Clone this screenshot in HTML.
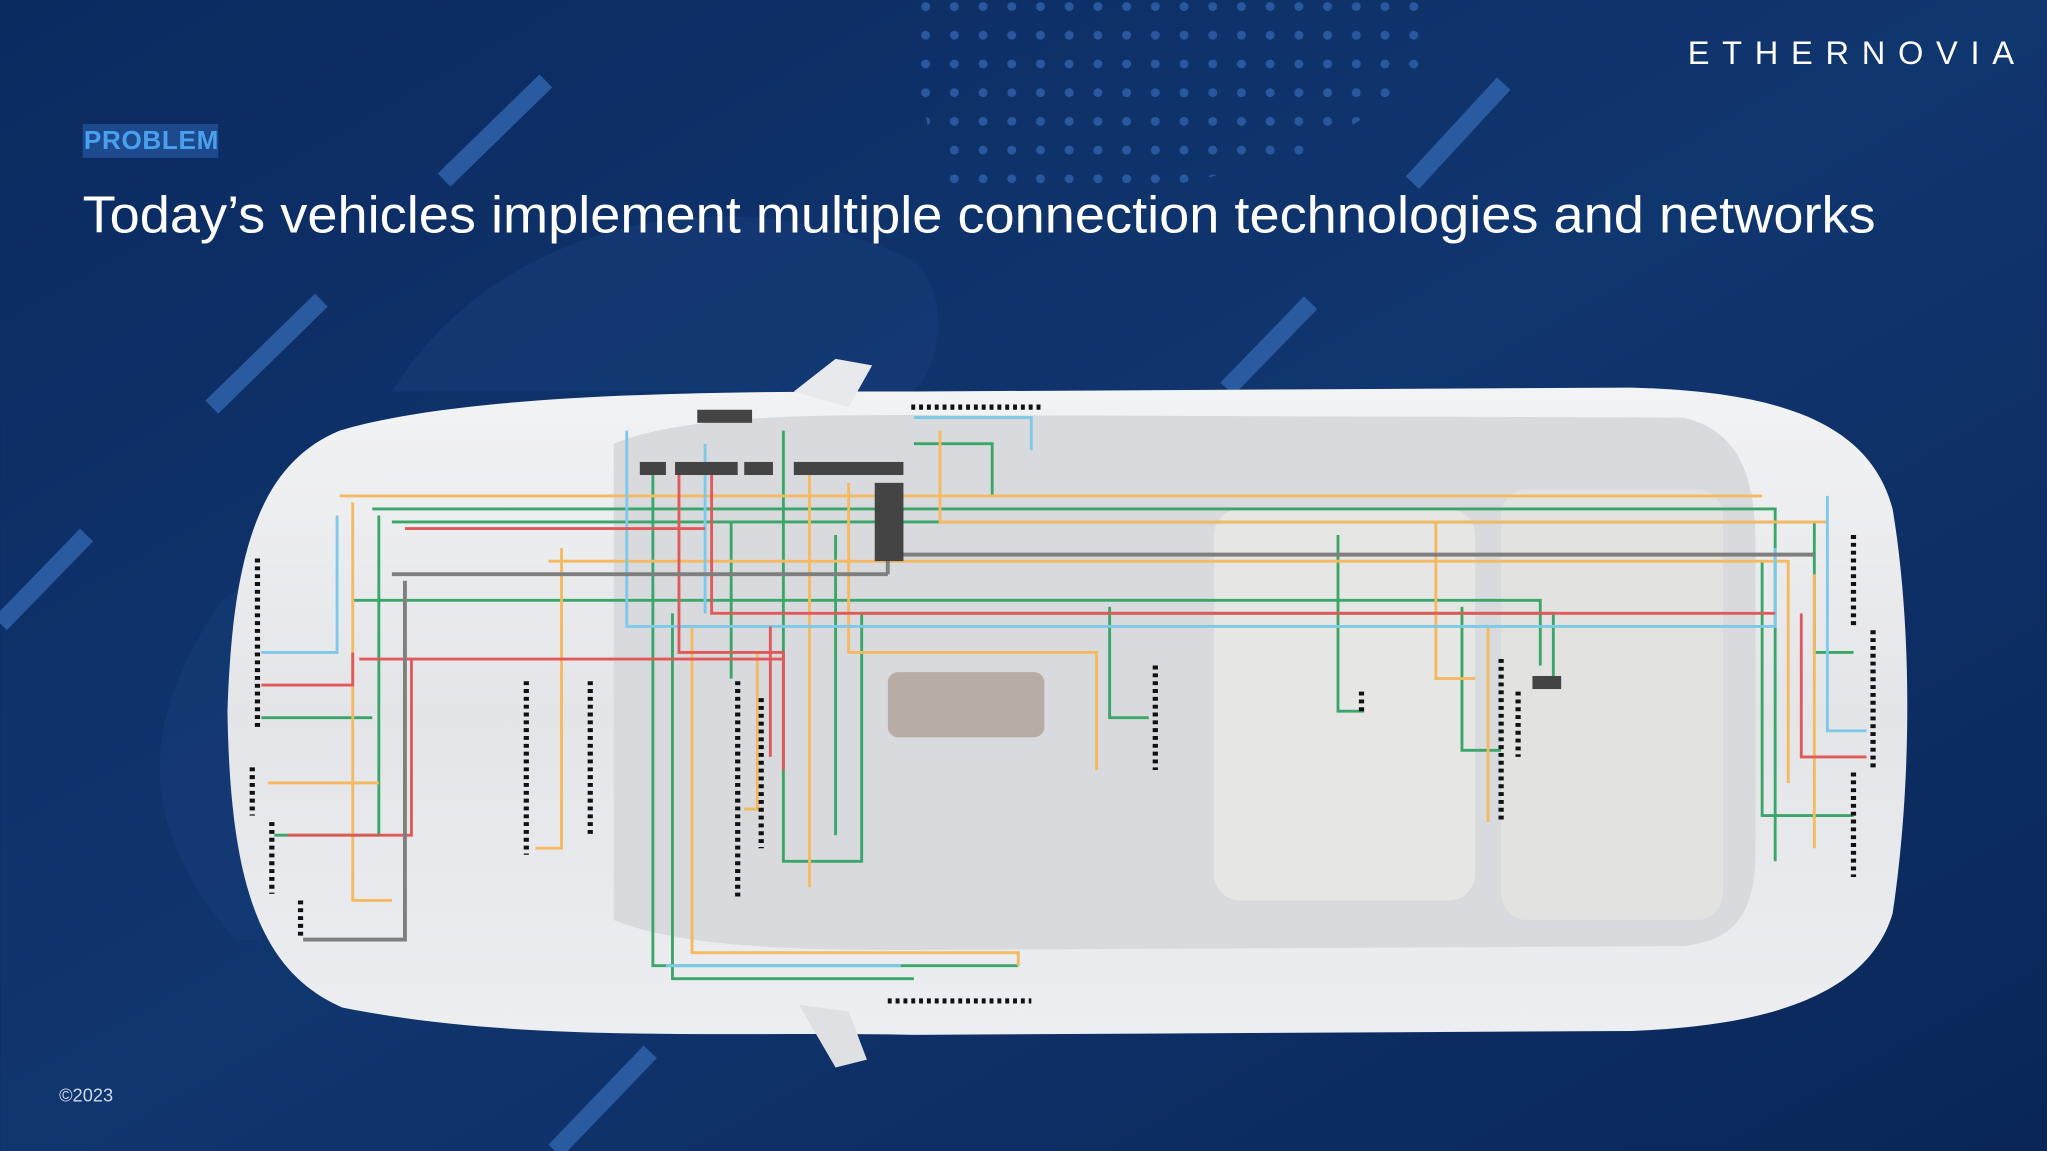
<!DOCTYPE html>
<html><head><meta charset="utf-8"><style>
html,body{margin:0;padding:0;width:2047px;height:1151px;overflow:hidden;background:#0c2a5e}
svg{display:block}
</style></head><body>
<svg width="2047" height="1151" viewBox="0 0 1568 882" xmlns="http://www.w3.org/2000/svg">
<defs>
<linearGradient id="bg" x1="0" y1="0" x2="1" y2="1">
<stop offset="0" stop-color="#0b2a60"/><stop offset="0.5" stop-color="#10366f"/><stop offset="1" stop-color="#0a2658"/>
</linearGradient>
<linearGradient id="car" x1="0" y1="0" x2="0" y2="1">
<stop offset="0" stop-color="#f2f3f5"/><stop offset="0.5" stop-color="#e4e5e8"/><stop offset="1" stop-color="#eceef1"/>
</linearGradient>
<pattern id="dots" width="22" height="22" patternUnits="userSpaceOnUse"><circle cx="5" cy="5" r="3.4" fill="#2f5fa8"/></pattern>
</defs>
<rect width="1568" height="882" fill="url(#bg)"/>
<path d="M690,0 L1100,0 L1090,60 L1000,120 L860,150 L720,140 Z" fill="url(#dots)" opacity="0.85"/>
<g stroke="#2a5aa0" stroke-width="14">
<line x1="340" y1="138" x2="418" y2="62"/>
<line x1="162" y1="312" x2="246" y2="230"/>
<line x1="0" y1="478" x2="66" y2="410"/>
<line x1="1082" y1="140" x2="1152" y2="64"/>
<line x1="940" y1="298" x2="1004" y2="232"/>
<line x1="425" y1="882" x2="498" y2="806"/>
</g>
<path d="M300,300 C380,170 560,130 700,200 C730,230 720,280 700,300" fill="#163c78" opacity="0.6"/>
<path d="M180,720 C110,640 100,560 170,460 L200,440 L200,720 Z" fill="#163c78" opacity="0.6"/>
<path d="M260,330 C200,355 178,420 174,545 C176,680 200,745 262,772 C400,800 560,790 700,793 L1250,790 C1360,786 1432,760 1450,700 C1465,600 1465,480 1450,390 C1432,322 1360,300 1250,297 L700,300 C560,300 360,300 260,330 Z" fill="url(#car)"/>
<path d="M470,340 C520,320 600,318 700,318 L1290,320 C1330,330 1345,360 1345,420 L1345,650 C1345,700 1330,720 1290,725 L700,728 C600,728 520,725 470,705 Z" fill="#d9dadd"/>
<rect x="930" y="390" width="200" height="300" rx="20" fill="#e6e6e4"/>
<rect x="1150" y="375" width="170" height="330" rx="20" fill="#e2e2e0"/>
<rect x="680" y="515" width="120" height="50" rx="8" fill="#b8ada4"/>
<path d="M608,300 L640,275 L668,280 L650,312 Z" fill="#e8e9ec"/>
<path d="M612,770 L640,818 L664,812 L650,775 Z" fill="#dfe0e3"/>
<g fill="none" stroke-width="2.2">
<g stroke="#3aa66a">
<path d="M285,390 H1360 V660"/><path d="M300,400 H1390 V500 H1420"/><path d="M290,395 V640 H210"/>
<path d="M500,360 V740 H780"/><path d="M515,470 V750 H700"/><path d="M600,330 V660 H660 V470 H1190 V520"/>
<path d="M700,340 H760 V380"/><path d="M1025,410 V545 H1045"/><path d="M850,465 V550 H880"/>
<path d="M270,460 H1180 V510"/><path d="M1120,465 V575 H1150"/><path d="M560,400 V520"/>
<path d="M1350,430 V625 H1420"/><path d="M200,550 H285"/><path d="M640,410 V640"/>
</g>
<g stroke="#f5b961">
<path d="M260,380 H1350"/><path d="M270,385 V690 H300"/><path d="M430,420 V650 H410"/><path d="M420,430 H1370 V600"/>
<path d="M530,480 V730 H780 V740"/><path d="M620,360 V680"/><path d="M650,370 V500 H840 V590"/>
<path d="M720,330 V400 H1400"/><path d="M1100,400 V520 H1130"/><path d="M1140,480 V630"/>
<path d="M205,600 H290"/><path d="M580,500 V620 H570"/><path d="M1390,440 V650"/>
</g>
<g stroke="#7ec8e8">
<path d="M480,330 V480 H1360 V420"/><path d="M258,395 V500 H200"/><path d="M540,340 V470"/>
<path d="M1400,380 V560 H1430"/><path d="M700,320 H790 V345"/><path d="M510,740 H690"/>
</g>
<g stroke="#e05a5a">
<path d="M310,405 H540"/><path d="M520,360 V500 H600 V590"/><path d="M275,505 H600"/>
<path d="M315,505 V640 H220"/><path d="M545,360 V470 H1360"/><path d="M590,480 V580"/>
<path d="M1380,470 V580 H1430"/><path d="M270,500 V525 H200"/>
</g>
<g stroke="#7f7f7f" stroke-width="3">
<path d="M300,440 H680"/><path d="M690,425 H1390"/><path d="M680,385 V440"/>
<path d="M310,445 V720 H232"/>
</g>
</g>
<g fill="#444">
<rect x="534" y="314" width="42" height="10"/><rect x="490" y="354" width="20" height="10"/>
<rect x="517" y="354" width="48" height="10"/><rect x="570" y="354" width="22" height="10"/>
<rect x="608" y="354" width="84" height="10"/><rect x="670" y="370" width="22" height="60"/>
<rect x="1174" y="518" width="22" height="10"/>
</g>
<g stroke="#111" stroke-width="4" stroke-dasharray="3 3" fill="none">
<path d="M197,428 V560"/><path d="M193,588 V625"/><path d="M208,630 V685"/><path d="M230,690 V720"/>
<path d="M403,522 V655"/><path d="M452,522 V640"/><path d="M565,522 V690"/><path d="M583,535 V650"/>
<path d="M885,510 V590"/><path d="M1150,505 V630"/><path d="M1163,530 V580"/><path d="M1043,530 V548"/>
<path d="M1420,410 V480"/><path d="M1435,483 V590"/><path d="M1420,592 V672"/>
<path d="M698,312 H800"/><path d="M680,767 H790"/>
</g>
<rect x="63" y="95" width="104" height="26" fill="#1d4a8c"/>
<text x="64" y="114" font-family="Liberation Sans, sans-serif" font-weight="bold" font-size="20" fill="#4aa0ee" textLength="103">PROBLEM</text>
<text x="63" y="178" font-family="Liberation Sans, sans-serif" font-size="40" fill="#ffffff" textLength="1374" lengthAdjust="spacingAndGlyphs">Today’s vehicles implement multiple connection technologies and networks</text>
<text x="1293" y="49" font-family="Liberation Sans, sans-serif" font-size="25" fill="#ffffff" textLength="250">ETHERNOVIA</text>
<text x="45" y="844" font-family="Liberation Sans, sans-serif" font-size="14" fill="#d0d8e8">©2023</text>
</svg>
</body></html>
